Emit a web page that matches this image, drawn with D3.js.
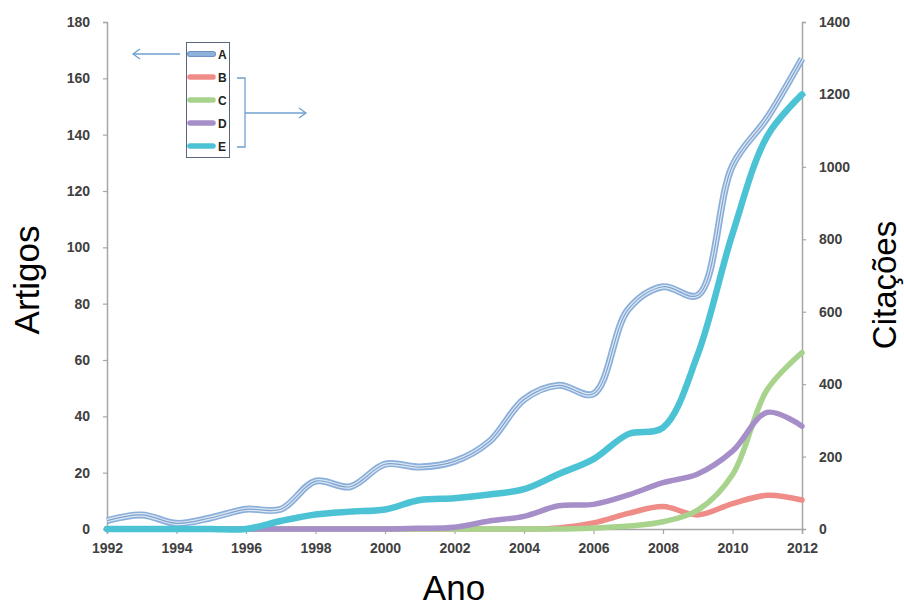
<!DOCTYPE html>
<html>
<head>
<meta charset="utf-8">
<script src="https://cdn.jsdelivr.net/npm/d3@7"></script>
<style>
  html, body { margin: 0; padding: 0; background: #fff; }
  svg { display: block; }
</style>
</head>
<body>
<svg id="chart" width="904" height="607"></svg>
<script>
// Publication years
const years = [1992,1993,1994,1995,1996,1997,1998,1999,2000,2001,2002,2003,2004,2005,2006,2007,2008,2009,2010,2011,2012];

// Artigos (left axis)
const serieA = [3,5,2,4,7,7,17,15,23,22,24,31,46,51,48,78,86,83,129,146,167];

// Citações (right axis)
const serieB = [0,0,0,0,0,0,0,0,0,0,0,0,0,3,17,43,62,39,70,93,80];
const serieC = [0,0,0,0,0,0,0,0,0,0,0,0,0,0,3,8,20,52,150,385,487];
const serieD = [0,0,0,0,0,0,0,0,0,2,5,22,35,64,68,94,128,152,215,322,284];
const serieE = [0,0,0,0,0,22,40,48,54,80,85,95,110,152,193,262,280,482,815,1085,1200];

const xTicks = [1992,1994,1996,1998,2000,2002,2004,2006,2008,2010,2012];
const yLeftTicks = [0,20,40,60,80,100,120,140,160,180];
const yRightTicks = [0,200,400,600,800,1000,1200,1400];

const legendLabels = ["A","B","C","D","E"];
const colors = {A:"#8fb2da", B:"#ef8c87", C:"#a8d38d", D:"#a68ec9", E:"#4cc2d5"};

const svg = d3.select("#chart");

const x = d3.scaleLinear().domain([1992, 2012]).range([107, 802]);
const yL = d3.scaleLinear().domain([0, 180]).range([529, 22]);
const yR = d3.scaleLinear().domain([0, 1400]).range([529, 22]);

const tickFont = "'Liberation Sans', Arial, sans-serif";

function styleAxis(g) {
  g.select(".domain").attr("stroke", "#a6a6a6").attr("stroke-width", 1.5);
  g.selectAll(".tick line").attr("stroke", "#a6a6a6").attr("stroke-width", 1.2);
  g.selectAll(".tick text")
    .attr("fill", "#404040")
    .style("font-family", tickFont)
    .style("font-weight", "bold")
    .style("font-size", "14px");
}

// Axes
svg.append("g")
  .attr("transform", "translate(0,529)")
  .call(d3.axisBottom(x).tickValues(xTicks).tickFormat(d3.format("d")).tickSizeOuter(0).tickSize(5).tickPadding(9))
  .call(styleAxis);

svg.append("g")
  .attr("transform", "translate(107,0)")
  .call(d3.axisLeft(yL).tickValues(yLeftTicks).tickFormat(d3.format("d")).tickSizeOuter(0).tickSize(4).tickPadding(13))
  .call(styleAxis);

svg.append("g")
  .attr("transform", "translate(802,0)")
  .call(d3.axisRight(yR).tickValues(yRightTicks).tickFormat(d3.format("d")).tickSizeOuter(0).tickSize(4).tickPadding(13))
  .call(styleAxis);

// Axis titles
const titleFont = "'Liberation Sans', Arial, sans-serif";
svg.append("text")
  .attr("transform", "translate(39,280) rotate(-90)")
  .attr("text-anchor", "middle")
  .style("font-family", titleFont).style("font-size", "35px").attr("fill", "#000")
  .text("Artigos");

svg.append("text")
  .attr("transform", "translate(896,285) rotate(-90)")
  .attr("text-anchor", "middle")
  .style("font-family", titleFont).style("font-size", "33px").attr("fill", "#000")
  .text("Citações");

svg.append("text")
  .attr("x", 454).attr("y", 600)
  .attr("text-anchor", "middle")
  .style("font-family", titleFont).style("font-size", "35px").attr("fill", "#000")
  .text("Ano");

// Smoothed lines
const lineL = d3.line().x((d, i) => x(years[i])).y(d => yL(d)).curve(d3.curveCatmullRom.alpha(0.5));
const lineR = d3.line().x((d, i) => x(years[i])).y(d => yR(d)).curve(d3.curveCatmullRom.alpha(0.5));

// Series A: triple-stroke line
const gA = svg.append("g");
gA.append("path").attr("d", lineL(serieA)).attr("fill", "none")
  .attr("stroke", "#8aafda").attr("stroke-width", 7).attr("stroke-linejoin", "round");
gA.append("path").attr("d", lineL(serieA)).attr("fill", "none")
  .attr("stroke", "#dde8f5").attr("stroke-width", 3.6).attr("stroke-linejoin", "round");
gA.append("path").attr("d", lineL(serieA)).attr("fill", "none")
  .attr("stroke", "#7ea1cc").attr("stroke-width", 1.2).attr("stroke-linejoin", "round");

const rightSeries = [
  {key: "B", values: serieB, w: 5.5},
  {key: "C", values: serieC, w: 5.5},
  {key: "D", values: serieD, w: 5.5},
  {key: "E", values: serieE, w: 6.5}
];

svg.append("g").selectAll("path")
  .data(rightSeries)
  .join("path")
  .attr("d", d => lineR(d.values))
  .attr("fill", "none")
  .attr("stroke", d => colors[d.key])
  .attr("stroke-width", d => d.w)
  .attr("stroke-linejoin", "round")
  .attr("stroke-linecap", "round");

// Legend
const legend = svg.append("g");
legend.append("rect")
  .attr("x", 186.5).attr("y", 42.5).attr("width", 43).attr("height", 115)
  .attr("fill", "#fff").attr("stroke", "#5a6680").attr("stroke-width", 1);

const legendY = d3.scalePoint().domain(legendLabels).range([54, 146]);
legendLabels.forEach(k => {
  const yy = legendY(k);
  if (k === "A") {
    legend.append("line").attr("x1", 190).attr("x2", 213).attr("y1", yy).attr("y2", yy)
      .attr("stroke", "#6e92c2").attr("stroke-width", 6).attr("stroke-linecap", "round");
    legend.append("line").attr("x1", 190).attr("x2", 213).attr("y1", yy).attr("y2", yy)
      .attr("stroke", colors.A).attr("stroke-width", 4).attr("stroke-linecap", "round");
  } else {
    legend.append("line").attr("x1", 190).attr("x2", 213).attr("y1", yy).attr("y2", yy)
      .attr("stroke", colors[k]).attr("stroke-width", 5.5).attr("stroke-linecap", "round");
  }
  legend.append("text").attr("x", 218).attr("y", yy + 4.5)
    .style("font-family", tickFont).style("font-weight", "bold").style("font-size", "12px")
    .attr("fill", "#222").text(k);
});

// Arrows pointing to each axis
const arrowColor = "#6fa0cf";
const ann = svg.append("g").attr("fill", "none").attr("stroke", arrowColor).attr("stroke-width", 1.3);
ann.append("line").attr("x1", 180).attr("y1", 54).attr("x2", 133).attr("y2", 54);
ann.append("path").attr("d", "M140,49 L133,54 L140,59");

ann.append("path").attr("d", "M237,78 L245,78 L245,147 L237,147");
ann.append("line").attr("x1", 245).attr("y1", 113).attr("x2", 306).attr("y2", 113);
ann.append("path").attr("d", "M299,108 L306,113 L299,118");
</script>
</body>
</html>
